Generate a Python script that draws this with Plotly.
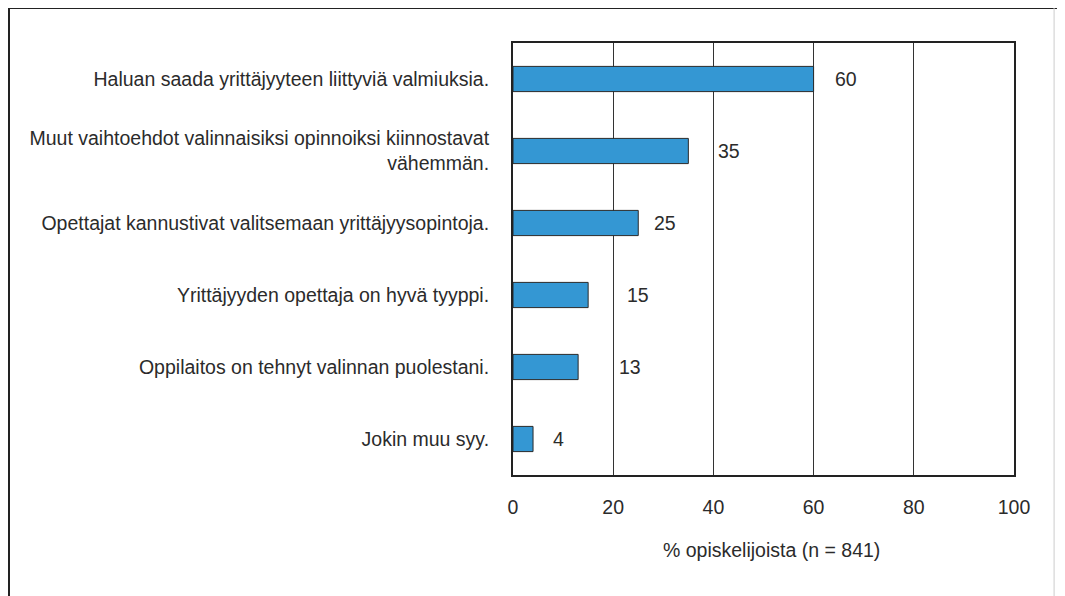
import plotly.graph_objects as go

categories = [
    "Haluan saada yrittäjyyteen liittyviä valmiuksia.",
    "Muut vaihtoehdot valinnaisiksi opinnoiksi kiinnostavat<br>vähemmän.",
    "Opettajat kannustivat valitsemaan yrittäjyysopintoja.",
    "Yrittäjyyden opettaja on hyvä tyyppi.",
    "Oppilaitos on tehnyt valinnan puolestani.",
    "Jokin muu syy.",
]
values = [60, 35, 25, 15, 13, 4]
x_ticks = [0, 20, 40, 60, 80, 100]
x_title = "% opiskelijoista (n = 841)"

# style: pixel offsets of the value labels from bar ends
label_shift = [19, 28, 14, 37, 39, 18]

FONT = "Liberation Sans, Arial, sans-serif"
FS = 19.5
TXT = "#2b2b2b"

fig = go.Figure()
fig.add_trace(go.Bar(
    x=values, y=categories, orientation="h", width=0.35,
    marker=dict(color="#3497d3", line=dict(color="#2a2a2a", width=1)),
    hoverinfo="skip",
))

for v, c, s in zip(values, categories, label_shift):
    fig.add_annotation(x=v, y=c, text=str(v), showarrow=False,
                       xanchor="left", yanchor="middle", xshift=s,
                       font=dict(family=FONT, size=FS, color=TXT))

fig.add_annotation(x=0.516, y=-0.174, xref="paper", yref="paper",
                   text=x_title, showarrow=False, xanchor="center", yanchor="middle",
                   font=dict(family=FONT, size=FS, color=TXT))

# outer frame lines
fig.add_shape(type="line", xref="paper", yref="paper", x0=-1.006, x1=1.12, y0=1.081, y1=1.081,
              line=dict(color="#222", width=2))
fig.add_shape(type="line", xref="paper", yref="paper", x0=-1.006, x1=-1.006, y0=1.081, y1=-0.3,
              line=dict(color="#222", width=2))
fig.add_shape(type="line", xref="paper", yref="paper", x0=1.08, x1=1.08, y0=1.081, y1=-0.3,
              line=dict(color="#cccccc", width=1))

fig.update_layout(
    width=1065, height=596,
    margin=dict(l=505, r=59, t=35, b=129),
    paper_bgcolor="white", plot_bgcolor="white",
    showlegend=False,
    font=dict(family=FONT, size=FS, color=TXT),
    xaxis=dict(range=[0, 100], tickvals=x_ticks, showgrid=True, gridcolor="#333",
               gridwidth=1, showline=True, mirror=True, linecolor="#222", linewidth=2,
               zeroline=False, ticks="", ticklabelstandoff=14,
               tickfont=dict(family=FONT, size=FS, color=TXT)),
    yaxis=dict(autorange="reversed", showline=True, mirror=True, linecolor="#222",
               linewidth=2, showgrid=False, ticks="", ticklabelstandoff=18,
               tickfont=dict(family=FONT, size=FS, color=TXT)),
)

fig.write_html("out.html")
